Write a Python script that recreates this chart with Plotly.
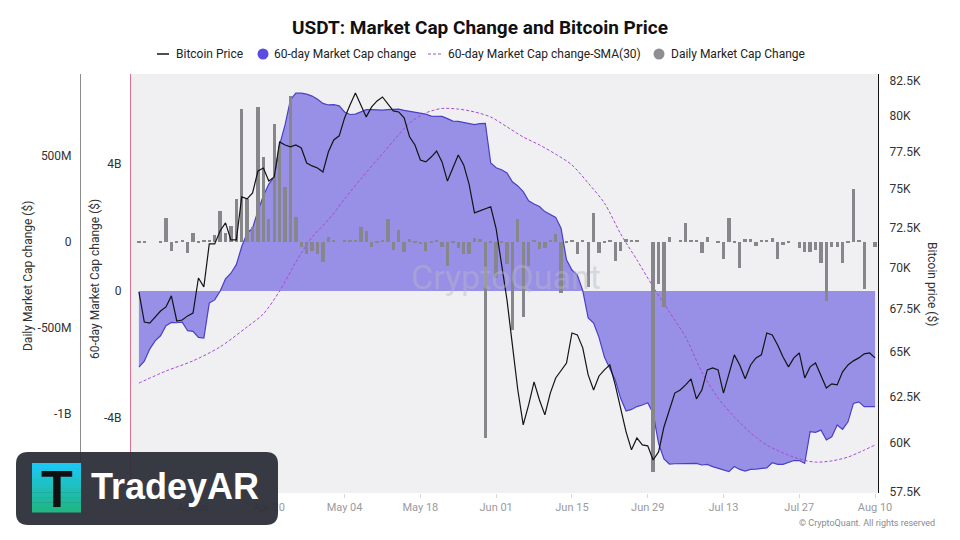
import math
import pandas as pd
import plotly.graph_objects as go

# ---------------- data ----------------
start_date = "2024-03-27"
end_date = "2024-08-10"

# Bitcoin price (thousand USD), one value per day
btc_price_k = [
    68.53, 66.74, 66.68, 67.04, 67.39, 67.63, 68.29, 66.80, 66.86, 67.10,
    67.27, 69.37, 68.83, 71.48, 71.48, 72.30, 72.81, 71.73, 71.73, 74.50,
    74.37, 74.76, 76.21, 76.41, 75.54, 75.81, 78.18, 77.97, 77.84, 77.97,
    77.77, 76.75, 76.55, 76.41, 76.15, 77.49, 78.32, 78.60, 79.85, 80.76,
    81.62, 80.76, 79.92, 80.62, 81.05, 81.33, 80.83, 80.34, 80.27, 79.85,
    78.53, 77.97, 76.95, 76.82, 77.15, 77.56, 76.82, 75.54, 76.41, 77.29,
    76.62, 75.34, 73.46, 73.59, 73.72, 73.85, 72.43, 70.17, 68.05, 65.41,
    62.87, 60.97, 62.05, 63.32, 62.32, 61.51, 62.70, 63.54, 63.99, 64.38,
    66.10, 65.99, 65.24, 63.71, 62.87, 63.65, 63.99, 64.27, 63.15, 61.78,
    60.60, 59.65, 60.28, 59.91, 59.86, 59.12, 59.54, 60.86, 61.78, 62.70,
    62.87, 63.15, 63.49, 62.38, 62.87, 63.99, 64.10, 63.99, 62.70, 63.71,
    64.84, 64.27, 63.49, 64.27, 64.67, 64.84, 66.10, 65.99, 65.41, 64.72,
    64.16, 64.67, 64.95, 63.54, 64.16, 64.38, 63.65, 62.98, 63.21, 63.15,
    63.88, 64.27, 64.50, 64.67, 64.90, 64.95, 64.67,
]

# 60-day market cap change (billion USD)
mcap_60d_b = [
    -2.40, -2.21, -1.83, -1.57, -1.41, -1.09, -0.99, -1.00, -0.98, -1.25,
    -1.27, -1.46, -1.48, -0.38, -0.28, -0.01, 0.38, 0.56, 0.83, 1.40,
    1.82, 1.98, 2.53, 3.00, 3.37, 3.59, 4.60, 5.23, 6.02, 6.23,
    6.23, 6.20, 6.14, 6.04, 5.91, 5.86, 5.87, 5.83, 5.64, 5.56,
    5.57, 5.64, 5.71, 5.71, 5.70, 5.70, 5.71, 5.73, 5.73, 5.69,
    5.66, 5.64, 5.61, 5.57, 5.51, 5.50, 5.50, 5.43, 5.35, 5.34,
    5.31, 5.27, 5.24, 5.27, 5.28, 4.03, 3.88, 3.82, 3.72, 3.44,
    3.31, 3.13, 2.84, 2.74, 2.66, 2.50, 2.42, 2.32, 1.97, 0.98,
    0.66, 0.50, 0.01, -0.85, -1.01, -1.46, -2.08, -2.42, -2.80, -3.38,
    -3.78, -3.73, -3.64, -3.59, -3.52, -3.85, -4.80, -5.29, -5.45, -5.44,
    -5.44, -5.45, -5.43, -5.43, -5.48, -5.46, -5.53, -5.58, -5.62, -5.69,
    -5.53, -5.62, -5.67, -5.62, -5.61, -5.60, -5.57, -5.41, -5.46, -5.46,
    -5.41, -5.34, -5.34, -5.43, -4.43, -4.45, -4.38, -4.69, -4.59, -4.22,
    -4.36, -4.12, -3.54, -3.49, -3.64, -3.64, -3.64,
]

# Daily market cap change (million USD)
daily_change_m = [
    -4, -4, 0, 0, -4, 137, -53, -5, 9, -69,
    48, -5, 3, 4, 38, 176, 48, 92, 247, 770,
    247, 83, 784, 490, 131, 683, 557, 315, 848, 141,
    -30, -73, -53, -73, -117, 28, 4, 0, 3, 3,
    3, 86, 59, -34, -3, 4, 131, -49, 67, -63,
    15, -4, -15, -53, -4, 4, -32, -142, -5, -40,
    -70, -70, 20, 15, -1140, -10, -212, -10, -130, -517,
    133, -437, -145, 10, -46, -37, 5, 44, -297, -4,
    4, -71, 8, -265, 168, -64, -5, 5, -116, -56,
    15, 4, 4, 0, 0, -1340, -245, -381, 28, 0,
    4, 106, 9, 5, -69, 28, 0, -4, -103, 135,
    -4, -156, 14, 15, -24, 4, 4, 19, -103, -19,
    -4, 0, -40, -60, -60, -50, -127, -344, -30, -30,
    -122, -4, 304, 4, -277, 0, -32,
]

# 60-day market cap change SMA(30) (billion USD), read at these dates
sma_dates = [
    "2024-03-27", "2024-04-01", "2024-04-06", "2024-04-11", "2024-04-16",
    "2024-04-19", "2024-04-22", "2024-04-25", "2024-04-28", "2024-05-01",
    "2024-05-04", "2024-05-07", "2024-05-10", "2024-05-13", "2024-05-16",
    "2024-05-19", "2024-05-22", "2024-05-25", "2024-05-28", "2024-05-31",
    "2024-06-03", "2024-06-06", "2024-06-09", "2024-06-12", "2024-06-15",
    "2024-06-18", "2024-06-21", "2024-06-24", "2024-06-27", "2024-06-30",
    "2024-07-03", "2024-07-06", "2024-07-09", "2024-07-12", "2024-07-15",
    "2024-07-18", "2024-07-21", "2024-07-24", "2024-07-27", "2024-07-30",
    "2024-08-02", "2024-08-05", "2024-08-08", "2024-08-10",
]
sma_60d_b = [
    -2.90, -2.52, -2.20, -1.76, -1.13,
    -0.72, 0.00, 0.91, 1.70, 2.24,
    2.90, 3.53, 4.13, 4.72, 5.29,
    5.61, 5.75, 5.73, 5.64, 5.48,
    5.17, 4.85, 4.60, 4.31, 3.97,
    3.40, 2.77, 1.80, 0.98, 0.13,
    -0.66, -1.45, -2.55, -3.37, -3.97,
    -4.47, -4.85, -5.10, -5.29, -5.39,
    -5.35, -5.23, -5.01, -4.85,
]

x_tick_dates = ["2024-04-06", "2024-04-20", "2024-05-04", "2024-05-18", "2024-06-01",
                "2024-06-15", "2024-06-29", "2024-07-13", "2024-07-27", "2024-08-10"]
mcap_ticks_b = [-4, 0, 4]
mcap_tick_text = ["-4B", "0", "4B"]
daily_ticks_m = [-1000, -500, 0, 500]
daily_tick_text = ["-1B", "-500M", "0", "500M"]
btc_ticks_k = [57.5, 60, 62.5, 65, 67.5, 70, 72.5, 75, 77.5, 80, 82.5]
btc_tick_text = ["57.5K", "60K", "62.5K", "65K", "67.5K", "70K", "72.5K", "75K", "77.5K", "80K", "82.5K"]

dates = pd.date_range(start_date, end_date, freq="D")

# ---------------- layout helpers (pixel -> paper) ----------------
W, H = 960, 540
ML, MR, MT, MB = 20, 82, 74, 47
PW, PH = W - ML - MR, H - MT - MB


def px(x):
    return (x - ML) / PW


def py(y):
    return (H - MB - y) / PH


FONT = "Roboto"

fig = go.Figure()

# 60-day area (base axis)
fig.add_trace(go.Scatter(
    x=dates, y=[v * 1e9 for v in mcap_60d_b], mode="lines", fill="tozeroy",
    line=dict(color="#4a3fc6", width=1.2), fillcolor="rgba(94,80,222,0.6)",
    yaxis="y", showlegend=False, hoverinfo="skip"))

# SMA(30) dashed
fig.add_trace(go.Scatter(
    x=pd.to_datetime(sma_dates), y=[v * 1e9 for v in sma_60d_b], mode="lines",
    line=dict(color="#a64bd2", width=1, dash="3px,2px", shape="spline", smoothing=0.8),
    yaxis="y", showlegend=False, hoverinfo="skip"))

# Daily bars
fig.add_trace(go.Bar(
    x=dates, y=[v * 1e6 for v in daily_change_m], marker=dict(color="#86868b", line=dict(width=0)),
    width=0.62 * 86400000, yaxis="y2", showlegend=False, hoverinfo="skip"))

# Bitcoin price
fig.add_trace(go.Scatter(
    x=dates, y=[v * 1000 for v in btc_price_k], mode="lines",
    line=dict(color="#141414", width=1.2), yaxis="y3", showlegend=False, hoverinfo="skip"))

fig.update_layout(
    width=W, height=H,
    margin=dict(l=ML, r=MR, t=MT, b=MB),
    paper_bgcolor="white",
    plot_bgcolor="#f0f0f3",
    font=dict(family=FONT, size=12, color="#333"),
    showlegend=False,
    bargap=0,
    title=dict(text="<b>USDT: Market Cap Change and Bitcoin Price</b>", x=0.5, xanchor="center",
               xref="container", y=1 - 27 / H, yref="container", yanchor="middle",
               font=dict(family=FONT, size=19, color="#111")),
    xaxis=dict(
        domain=[px(131), 1.0], type="date",
        range=["2024-03-25 13:00", "2024-08-10 13:00"],
        tickvals=pd.to_datetime(x_tick_dates), tickformat="%b %d",
        showgrid=False, zeroline=False, showline=False,
        ticks="outside", ticklen=4, tickcolor="#d8d8dc",
        tickfont=dict(size=11, color="#9a9a9e"),
    ),
    yaxis=dict(
        range=[-6.362e9, 6.835e9],
        tickvals=[v * 1e9 for v in mcap_ticks_b], ticktext=mcap_tick_text,
        showgrid=False, zeroline=False, showline=True, linecolor="#e0708e", linewidth=1,
        ticks="", tickfont=dict(size=12, color="#333"), ticklabelstandoff=6,
    ),
    yaxis2=dict(
        overlaying="y", anchor="free", position=px(80), side="left",
        range=[-1462e6, 973.8e6],
        tickvals=[v * 1e6 for v in daily_ticks_m], ticktext=daily_tick_text,
        showgrid=False, zeroline=False, showline=True, linecolor="#8c8c8c", linewidth=1,
        ticks="", tickfont=dict(size=12, color="#333"), ticklabelstandoff=6,
    ),
    yaxis3=dict(
        overlaying="y", anchor="x", side="right", type="log",
        range=[math.log10(57430), math.log10(82990)],
        tickvals=[v * 1000 for v in btc_ticks_k], ticktext=btc_tick_text,
        showgrid=False, zeroline=False, showline=True, linecolor="#111", linewidth=1.2,
        ticks="", tickfont=dict(size=12, color="#333"), ticklabelstandoff=8,
    ),
)

annotations = []
shapes = []

# axis titles
annotations.append(dict(text="Daily Market Cap change ($)", x=px(28), y=py(276), xref="paper", yref="paper",
                        xanchor="center", yanchor="middle",
                        textangle=-90, showarrow=False, font=dict(size=12, color="#333")))
annotations.append(dict(text="60-day Market Cap change ($)", x=px(95), y=py(279), xref="paper", yref="paper",
                        xanchor="center", yanchor="middle",
                        textangle=-90, showarrow=False, font=dict(size=12, color="#333")))
annotations.append(dict(text="Bitcoin price ($)", x=px(932), y=py(284), xref="paper", yref="paper",
                        xanchor="center", yanchor="middle",
                        textangle=90, showarrow=False, font=dict(size=12, color="#333")))

# legend (drawn manually)
LY = 54
shapes.append(dict(type="line", xref="paper", yref="paper", x0=px(157), x1=px(169), y0=py(LY), y1=py(LY),
                   line=dict(color="#141414", width=1.5)))
annotations.append(dict(text="Bitcoin Price", x=px(174), y=py(LY), xref="paper", yref="paper",
                        xanchor="left", yanchor="middle", showarrow=False, font=dict(size=12, color="#222")))
shapes.append(dict(type="circle", xref="paper", yref="paper", x0=px(257.5), x1=px(268.5),
                   y0=py(LY + 5.5), y1=py(LY - 5.5), fillcolor="#5a4be1", line=dict(width=0)))
annotations.append(dict(text="60-day Market Cap change", x=px(272), y=py(LY), xref="paper", yref="paper",
                        xanchor="left", yanchor="middle", showarrow=False, font=dict(size=12, color="#222")))
shapes.append(dict(type="line", xref="paper", yref="paper", x0=px(428), x1=px(442), y0=py(LY), y1=py(LY),
                   line=dict(color="#a64bd2", width=1.2, dash="3px,2px")))
annotations.append(dict(text="60-day Market Cap change-SMA(30)", x=px(446), y=py(LY), xref="paper", yref="paper",
                        xanchor="left", yanchor="middle", showarrow=False, font=dict(size=12, color="#222")))
shapes.append(dict(type="circle", xref="paper", yref="paper", x0=px(653.5), x1=px(664.5),
                   y0=py(LY + 5.5), y1=py(LY - 5.5), fillcolor="#8e8e93", line=dict(width=0)))
annotations.append(dict(text="Daily Market Cap Change", x=px(669), y=py(LY), xref="paper", yref="paper",
                        xanchor="left", yanchor="middle", showarrow=False, font=dict(size=12, color="#222")))

# watermark + copyright
annotations.append(dict(text="CryptoQuant", x=px(506), y=py(277), xref="paper", yref="paper",
                        showarrow=False, font=dict(size=34, color="rgba(185,185,195,0.45)")))
annotations.append(dict(text="© CryptoQuant. All rights reserved", x=px(937), y=py(523), xref="paper",
                        yref="paper", xanchor="right", yanchor="middle", showarrow=False,
                        font=dict(size=9, color="#8a8a8a")))


# TradeyAR banner
def rrect(x0, y0, x1, y1, r):
    X0, X1 = px(x0), px(x1)
    Y0, Y1 = py(y0), py(y1)
    rx, ry = r / PW, r / PH
    return (f"M {X0 + rx},{Y0} L {X1 - rx},{Y0} Q {X1},{Y0} {X1},{Y0 - ry} "
            f"L {X1},{Y1 + ry} Q {X1},{Y1} {X1 - rx},{Y1} L {X0 + rx},{Y1} "
            f"Q {X0},{Y1} {X0},{Y1 + ry} L {X0},{Y0 - ry} Q {X0},{Y0} {X0 + rx},{Y0} Z")


shapes.append(dict(type="path", xref="paper", yref="paper", path=rrect(16, 452, 278, 525, 12),
                   fillcolor="rgba(44,46,55,0.94)", line=dict(width=0), layer="above"))
band_cols = ["#1cc8f2", "#1cc6e6", "#1dc4da", "#1dc2ce", "#1ec0c2", "#1ebeb6", "#1fbcaa", "#1fba9e", "#20b892",
             "#20b686"]
n = len(band_cols)
for i, c in enumerate(band_cols):
    y0 = 463 + i * (49 / n)
    shapes.append(dict(type="rect", xref="paper", yref="paper", x0=px(32), x1=px(81),
                       y0=py(y0), y1=py(y0 + 49 / n + 0.4), fillcolor=c, line=dict(width=0), layer="above"))
annotations.append(dict(text="<b>T</b>", x=px(56.5), y=py(489), xref="paper", yref="paper", showarrow=False,
                        xanchor="center", yanchor="middle",
                        font=dict(family="Liberation Sans", size=52, color="#101010")))
annotations.append(dict(text="<b>TradeyAR</b>", x=px(89), y=py(486), xref="paper", yref="paper", showarrow=False,
                        xanchor="left", yanchor="middle",
                        font=dict(family="Liberation Sans", size=36, color="#ffffff")))

fig.update_layout(annotations=annotations, shapes=shapes)

fig.write_html("out.html", config={"displayModeBar": False},
               post_script="document.body.style.margin='0px';document.body.style.overflow='hidden';")
